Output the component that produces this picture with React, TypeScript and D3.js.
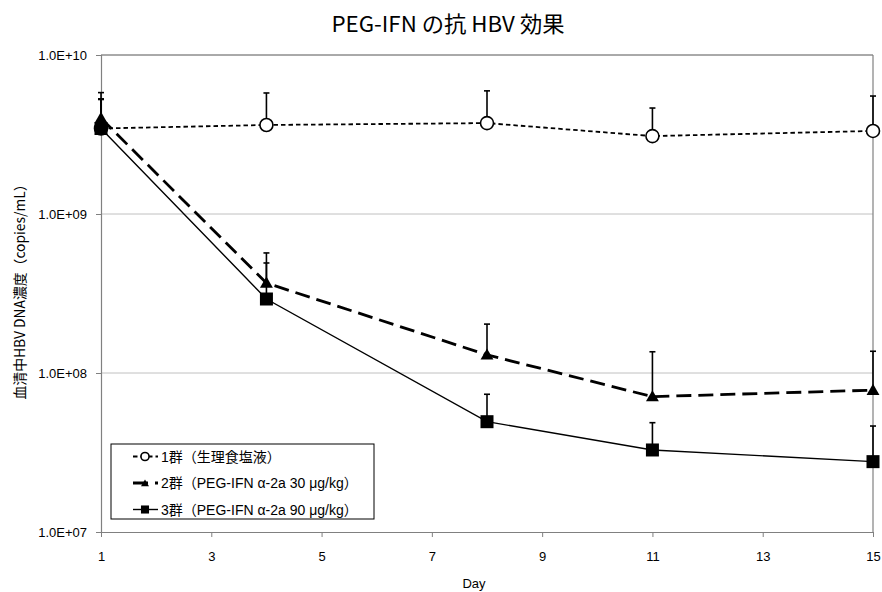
import React, { useEffect, useRef } from 'react';
import * as d3 from 'd3';

const days = [1, 4, 8, 11, 15];
const xTicks = [1, 3, 5, 7, 9, 11, 13, 15];
const yTicks = [1e7, 1e8, 1e9, 1e10];

const seriesNames = ['1群（生理食塩液）', '2群（PEG-IFN α-2a 30 μg/kg）', '3群（PEG-IFN α-2a 90 μg/kg）'];
const saline = [3.45e9, 3.63e9, 3.73e9, 3.09e9, 3.33e9];
const salineErr = [5.3e9, 5.77e9, 5.95e9, 4.64e9, 5.52e9];
const low = [4.0e9, 3.68e8, 1.3e8, 7.1e7, 7.8e7];
const lowErr = [5.8e9, 5.69e8, 2.03e8, 1.36e8, 1.37e8];
const high = [3.45e9, 2.92e8, 4.94e7, 3.28e7, 2.77e7];
const highErr = [5.25e9, 4.92e8, 7.35e7, 4.87e7, 4.64e7];

const W = 882;
const H = 592;
const margin = { left: 101, right: 9, top: 55, bottom: 60 };

const App: React.FC = () => {
  const svgRef = useRef<SVGSVGElement>(null);

  useEffect(() => {
    if (!svgRef.current) return;
    const svg = d3.select(svgRef.current);
    svg.selectAll('*').remove();

    const x = d3.scaleLinear().domain([1, 15]).range([margin.left, W - margin.right]);
    const y = d3.scaleLog().domain([1e7, 1e10]).range([H - margin.bottom, margin.top]);
    const font = 'Arial, "Liberation Sans", "Noto Sans CJK JP", sans-serif';

    // grid
    svg.append('g')
      .selectAll('line')
      .data(yTicks.slice(1, 3))
      .enter()
      .append('line')
      .attr('x1', x(1)).attr('x2', x(15))
      .attr('y1', (d) => y(d)).attr('y2', (d) => y(d))
      .attr('stroke', '#c0c0c0').attr('stroke-width', 1);

    // top and right border
    svg.append('line')
      .attr('x1', x(1)).attr('x2', x(15))
      .attr('y1', y(1e10)).attr('y2', y(1e10))
      .attr('stroke', '#555').attr('stroke-width', 1);
    svg.append('line')
      .attr('x1', x(15)).attr('x2', x(15))
      .attr('y1', y(1e10)).attr('y2', y(1e7))
      .attr('stroke', '#808080').attr('stroke-width', 1.2);

    // axes
    const yAxis = svg.append('g')
      .attr('transform', `translate(${x(1)},0)`)
      .call(d3.axisLeft(y).tickValues(yTicks).tickSize(5).tickFormat((d) => {
        const e = Math.round(Math.log10(+d));
        return `1.0E+${e < 10 ? '0' + e : e}`;
      }));
    yAxis.select('.domain').attr('stroke', '#808080').attr('stroke-width', 1.2);
    yAxis.selectAll('.tick line').attr('stroke', '#808080');
    yAxis.selectAll('text').attr('font-size', 13).attr('font-family', font).attr('fill', '#000').attr('dx', -6);

    const xAxis = svg.append('g')
      .attr('transform', `translate(0,${y(1e7)})`)
      .call(d3.axisBottom(x).tickValues(xTicks).tickSize(5).tickSizeOuter(0).tickFormat(d3.format('d')));
    xAxis.select('.domain').attr('stroke', '#808080').attr('stroke-width', 1.2);
    xAxis.selectAll('.tick line').attr('stroke', '#808080');
    xAxis.selectAll('text').attr('font-size', 13).attr('font-family', font).attr('fill', '#000').attr('dy', '1.6em');

    // titles
    svg.append('text')
      .attr('x', 448).attr('y', 32)
      .attr('text-anchor', 'middle')
      .attr('font-size', 22)
      .attr('font-family', '"Noto Sans CJK JP", sans-serif')
      .attr('textLength', 233)
      .attr('lengthAdjust', 'spacingAndGlyphs')
      .text('PEG-IFN の抗 HBV 効果');

    svg.append('text')
      .attr('x', 474).attr('y', 588)
      .attr('text-anchor', 'middle')
      .attr('font-size', 13)
      .attr('font-family', font)
      .text('Day');

    svg.append('text')
      .attr('transform', `translate(25,${(y(1e7) + y(1e10)) / 2 - 5}) rotate(-90)`)
      .attr('text-anchor', 'middle')
      .attr('font-size', 14)
      .attr('font-family', '"Noto Sans CJK JP", sans-serif')
      .attr('textLength', 222)
      .attr('lengthAdjust', 'spacingAndGlyphs')
      .text('血清中HBV DNA濃度（copies/mL）');

    const series = [
      { vals: saline, err: salineErr, dash: '4.5,3', width: 1.8, marker: 'circle' },
      { vals: low, err: lowErr, dash: '15,7', width: 2.8, marker: 'triangle' },
      { vals: high, err: highErr, dash: null, width: 1.4, marker: 'square' },
    ];

    const line = d3.line<number>()
      .x((_, i) => x(days[i]))
      .y((d) => y(d));

    // error bars (upper only)
    series.forEach((s) => {
      const g = svg.append('g');
      s.vals.forEach((v, i) => {
        const cx = x(days[i]);
        g.append('line')
          .attr('x1', cx).attr('x2', cx)
          .attr('y1', y(v)).attr('y2', y(s.err[i]))
          .attr('stroke', '#000').attr('stroke-width', 1.6);
        g.append('line')
          .attr('x1', cx - 3).attr('x2', cx + 3)
          .attr('y1', y(s.err[i])).attr('y2', y(s.err[i]))
          .attr('stroke', '#000').attr('stroke-width', 1.6);
      });
    });

    const drawMarker = (g: any, kind: string, cx: number, cy: number, k = 1) => {
      if (kind === 'circle') {
        g.append('circle').attr('cx', cx).attr('cy', cy).attr('r', 6.5 * k)
          .attr('fill', '#fff').attr('stroke', '#000').attr('stroke-width', 1.6);
      } else if (kind === 'triangle') {
        g.append('path')
          .attr('d', d3.symbol().type(d3.symbolTriangle).size(72 * k * k)())
          .attr('transform', `translate(${cx},${cy + 1})`)
          .attr('fill', '#000');
      } else {
        g.append('rect').attr('x', cx - 6.5 * k).attr('y', cy - 6.5 * k)
          .attr('width', 13 * k).attr('height', 13 * k).attr('fill', '#000');
      }
    };

    series.forEach((s) => {
      const g = svg.append('g');
      g.append('path')
        .attr('d', line(s.vals))
        .attr('fill', 'none')
        .attr('stroke', '#000')
        .attr('stroke-width', s.width)
        .attr('stroke-dasharray', s.dash);
      s.vals.forEach((v, i) => drawMarker(g, s.marker, x(days[i]), y(v)));
    });

    // legend
    const lg = svg.append('g').attr('transform', 'translate(111,444)');
    lg.append('rect').attr('width', 263).attr('height', 75)
      .attr('fill', '#fff').attr('stroke', '#000').attr('stroke-width', 1);
    series.forEach((s, i) => {
      const cy = 12.5 + i * 26.5;
      lg.append('line')
        .attr('x1', 22).attr('x2', 47)
        .attr('y1', cy).attr('y2', cy)
        .attr('stroke', '#000').attr('stroke-width', s.width)
        .attr('stroke-dasharray', s.dash);
      drawMarker(lg, s.marker, 34, cy, 0.62);
      lg.append('text')
        .attr('x', 50).attr('y', cy + 5)
        .attr('font-size', 14)
        .attr('font-family', font)
        .text(seriesNames[i]);
    });
  }, []);

  return (
    <div style={{ position: 'fixed', left: 0, top: 0, width: W, height: H, overflow: 'hidden' }}>
      <svg ref={svgRef} width={W} height={H} style={{ background: '#fff', display: 'block' }} />
    </div>
  );
};

export default App;
